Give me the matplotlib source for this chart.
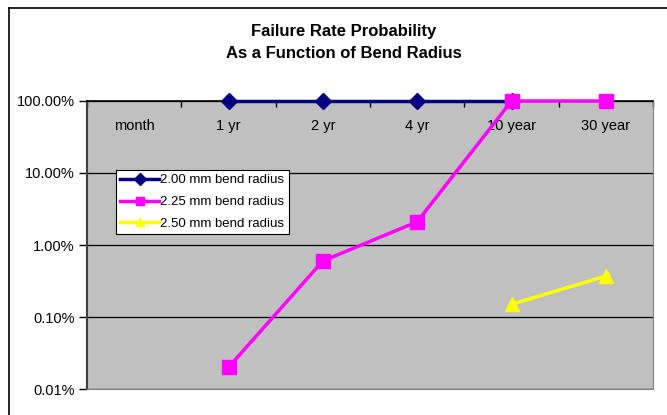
import matplotlib
matplotlib.use("Agg")
import matplotlib.pyplot as plt
from matplotlib.lines import Line2D
from matplotlib.ticker import FuncFormatter, FixedLocator, NullLocator
import numpy as np

plt.rcParams['font.family'] = ['Liberation Sans', 'DejaVu Sans']

# Data (failure probability as a fraction)
categories = ["month", "1 yr", "2 yr", "4 yr", "10 year", "30 year"]
r200 = [np.nan, 1.0, 1.0, 1.0, 1.0, np.nan]
r225 = [np.nan, 0.0002, 0.006, 0.021, 1.0, 1.0]
r250 = [np.nan, np.nan, np.nan, np.nan, 0.0015, 0.0037]
series_labels = ["2.00 mm bend radius", "2.25 mm bend radius", "2.50 mm bend radius"]
title_lines = ["Failure Rate Probability", "As a Function of Bend Radius"]

W, H = 667, 415
fig = plt.figure(figsize=(W / 100, H / 100), dpi=100)
fig.patch.set_facecolor("white")

# chart-area border (Excel style), only left and top edges fall inside the image
fig.add_artist(Line2D([9 / W, 9 / W], [0, 1 - 8 / H], color="black", lw=1.2))
fig.add_artist(Line2D([9 / W, 1], [1 - 8 / H, 1 - 8 / H], color="black", lw=1.2))

ax = fig.add_axes([87 / W, 1 - 389 / H, 566 / W, 288 / H])
ax.set_facecolor("#C0C0C0")

x = np.arange(len(categories))
ax.plot(x, r200, color="#000080", lw=2.5, marker="D", ms=8, label=series_labels[0],
        zorder=3, clip_on=False)
ax.plot(x, r225, color="#FF00FF", lw=2.5, marker="s", ms=10, label=series_labels[1],
        zorder=4, clip_on=False)
ax.plot(x, r250, color="#FFFF00", lw=2.5, marker="^", ms=10, label=series_labels[2],
        zorder=5, clip_on=False)

ax.set_yscale("log")
ax.set_ylim(1e-4, 1.0)
ax.yaxis.set_major_locator(FixedLocator([1e-4, 1e-3, 1e-2, 1e-1, 1.0]))
ax.yaxis.set_minor_locator(NullLocator())
ax.yaxis.set_major_formatter(FuncFormatter(lambda v, p: f"{v * 100:.2f}%"))
ax.grid(axis="y", color="black", lw=0.9)
ax.set_axisbelow(True)

# category axis sits at the top (crosses at 100%)
ax.set_xlim(-0.5, len(categories) - 0.5)
ax.xaxis.tick_top()
ax.set_xticks(np.arange(-0.5, len(categories)))
ax.set_xticklabels([])
ax.tick_params(axis="x", direction="in", length=4, width=1, color="black")
ax.tick_params(axis="y", direction="out", length=6, width=1, color="black",
               labelsize=10.5, pad=3)
trans = ax.get_xaxis_transform()
for i, c in enumerate(categories):
    ax.text(i, 0.913, c, transform=trans, ha="center", va="center", fontsize=10.5)

ax.spines["top"].set_color("black")
ax.spines["top"].set_linewidth(1.2)
ax.spines["left"].set_color("#404040")
ax.spines["left"].set_linewidth(1.5)
ax.spines["right"].set_color("#808080")
ax.spines["bottom"].set_color("#808080")

leg = ax.legend(loc="upper left", bbox_to_anchor=(0.051, 0.762), fontsize=9.5,
                frameon=True, fancybox=False, edgecolor="black", framealpha=1,
                handlelength=2.95, labelspacing=0.72, borderpad=0.35,
                handletextpad=0.05, borderaxespad=0)
leg.get_frame().set_linewidth(0.8)
for h in leg.legend_handles:
    h.set_markersize(6)

fig.text(344 / W, 1 - 36 / H, title_lines[0], ha="center", va="baseline",
         fontsize=12, fontweight="bold")
fig.text(344 / W, 1 - 58 / H, title_lines[1], ha="center", va="baseline",
         fontsize=12, fontweight="bold")

fig.savefig("out.png", dpi=100, facecolor="white")
